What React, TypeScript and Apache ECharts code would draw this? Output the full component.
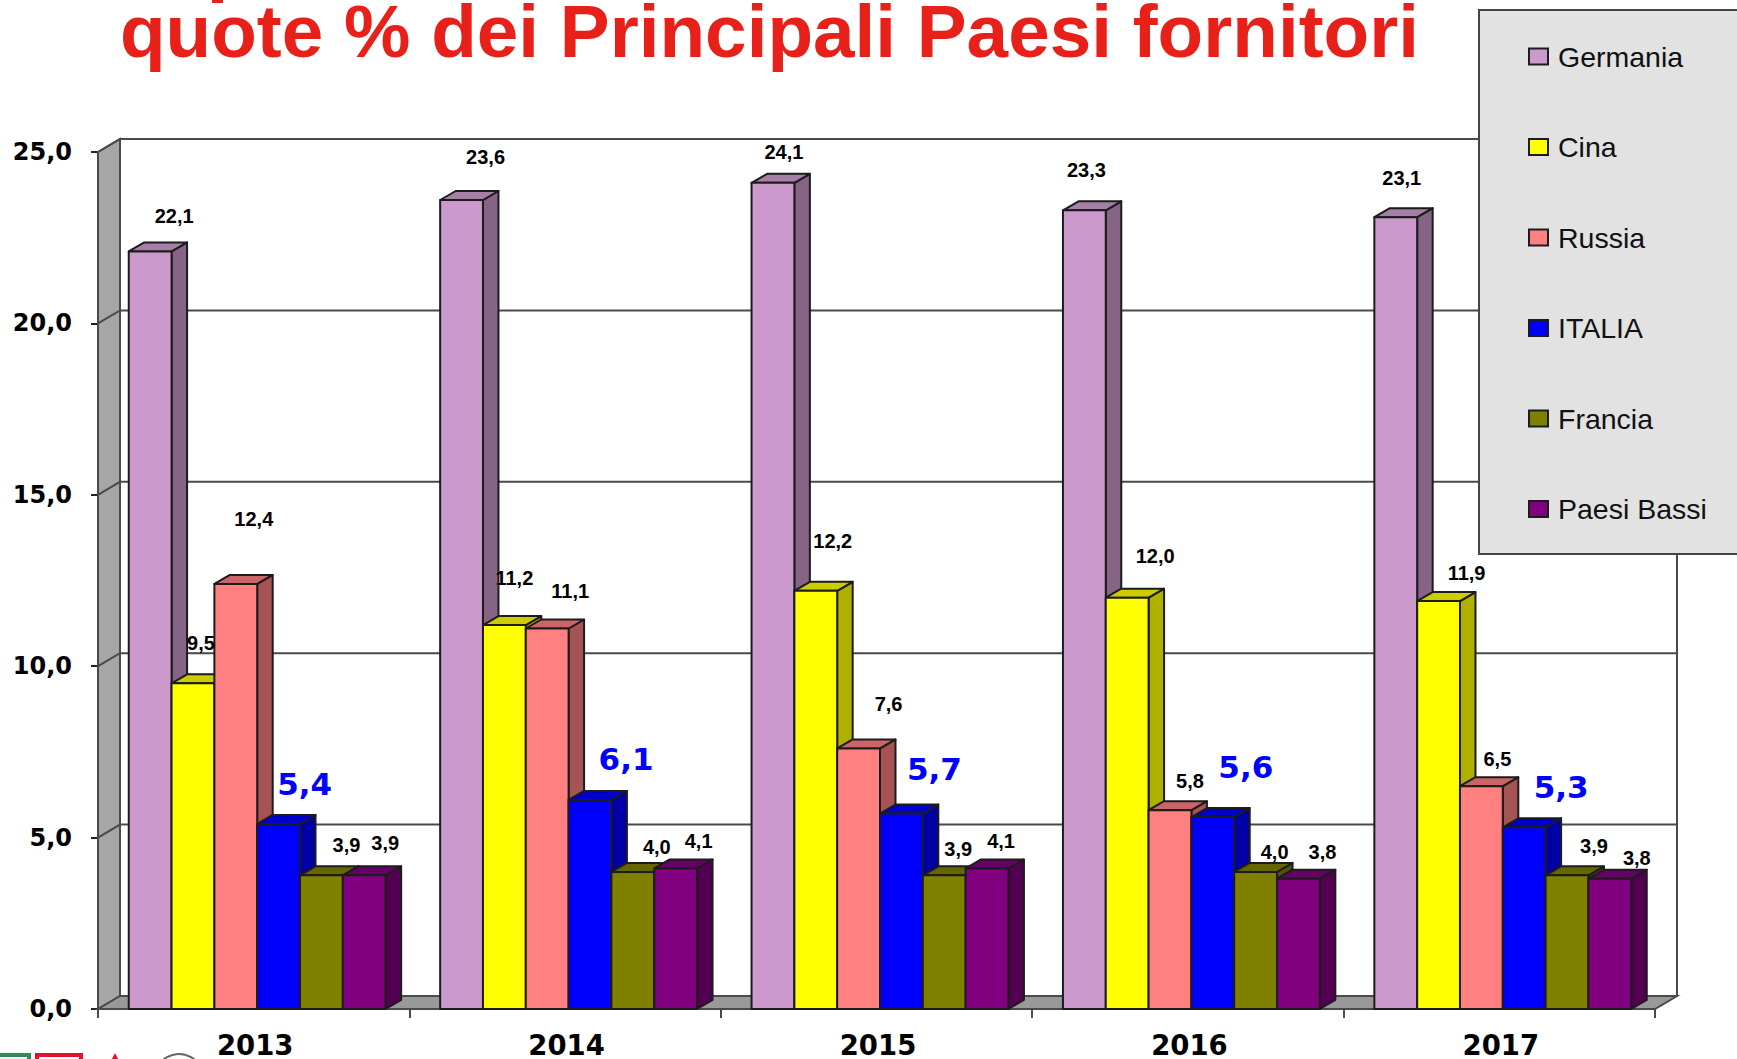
import React, { useEffect, useRef } from "react";
import * as echarts from "echarts";

const years = ["2013", "2014", "2015", "2016", "2017"];
const titleText = "quote % dei Principali Paesi fornitori";
const ticks = [0, 5, 10, 15, 20, 25];

const germania = [22.1, 23.6, 24.1, 23.3, 23.1];
const cina = [9.5, 11.2, 12.2, 12.0, 11.9];
const russia = [12.4, 11.1, 7.6, 5.8, 6.5];
const italia = [5.4, 6.1, 5.7, 5.6, 5.3];
const francia = [3.9, 4.0, 3.9, 4.0, 3.9];
const paesiBassi = [3.9, 4.1, 4.1, 3.8, 3.8];

// the reference's labels were placed by hand: [dx, dy] from the front-top centre of each bar
const nudgeGermania = [[24, -35], [24, -43], [11, -31], [2, -40], [6, -39]];
const nudgeCina = [[8, -40], [10, -47], [17, -50], [28, -42], [28, -28]];
const nudgeRussia = [[18, -65], [23, -37], [30, -44], [20, -29], [16, -27]];
const nudgeItalia = [[26, -40], [36, -41], [33, -45], [33, -50], [37, -40]];
const nudgeFrancia = [[25, -30], [24, -25], [14, -26], [19, -20], [27, -29]];
const nudgePaesiBassi = [[21, -32], [23, -27], [14, -27], [24, -27], [27, -21]];

const countries = [
  { name: "Germania", values: germania, nudge: nudgeGermania, front: "#CC99CC", top: "#A67FA6", side: "#866486" },
  { name: "Cina", values: cina, nudge: nudgeCina, front: "#FFFF00", top: "#CCCC00", side: "#B0B000" },
  { name: "Russia", values: russia, nudge: nudgeRussia, front: "#FF8080", top: "#CC6666", side: "#A65353" },
  { name: "ITALIA", values: italia, nudge: nudgeItalia, front: "#0000FF", top: "#0000CC", side: "#0000A6" },
  { name: "Francia", values: francia, nudge: nudgeFrancia, front: "#808000", top: "#666600", side: "#535300" },
  { name: "Paesi Bassi", values: paesiBassi, nudge: nudgePaesiBassi, front: "#800080", top: "#660066", side: "#530053" },
];

const EDGE = "#1c1c1c";
const LINE = "#4a4a4a";
const WALL_DX = 22;
const WALL_DY = 13;
const BAR_DX = 15.5;
const BAR_DY = 9;
const BAR_SHARE = 0.1375;
const GROUP_SHIFT = 3.5;

const fmt = (v: number) => v.toFixed(1).replace(".", ",");

function renderFrame(params: any, api: any) {
  const cs = params.coordSys;
  const v = api.value(1);
  const y = api.coord([0, v])[1];
  const left = cs.x;
  const right = cs.x + cs.width;
  const children: any[] = [];
  if (v === 0) {
    const top = cs.y;
    children.push({
      type: "polygon",
      shape: { points: [[left, top], [left + WALL_DX, top - WALL_DY], [left + WALL_DX, y - WALL_DY], [left, y]] },
      style: { fill: "#A6A6A6", stroke: LINE, lineWidth: 2 },
    });
    children.push({
      type: "polygon",
      shape: { points: [[left, y], [left + WALL_DX, y - WALL_DY], [right + WALL_DX, y - WALL_DY], [right, y]] },
      style: { fill: "#999999", stroke: LINE, lineWidth: 2 },
    });
    children.push({
      type: "line",
      shape: { x1: right + WALL_DX, y1: y - WALL_DY, x2: right + WALL_DX, y2: top - WALL_DY },
      style: { stroke: LINE, lineWidth: 2 },
    });
  } else {
    children.push({
      type: "polyline",
      shape: { points: [[left, y], [left + WALL_DX, y - WALL_DY], [right + WALL_DX, y - WALL_DY]] },
      style: { fill: "none", stroke: LINE, lineWidth: 2 },
    });
  }
  return { type: "group", children };
}

function makeBarRenderer(index: number) {
  const c = countries[index];
  return (_params: any, api: any) => {
    const cat = api.value(0);
    const val = api.value(1);
    const [cx, yTop] = api.coord([cat, val]);
    const y0 = api.coord([cat, 0])[1];
    const w = api.size([1, 0])[0] * BAR_SHARE;
    const x0 = cx + GROUP_SHIFT + (index - countries.length / 2) * w;
    const x1 = x0 + w;
    const stroke = { stroke: EDGE, lineWidth: 2, lineJoin: "round" };
    const isItalia = c.name === "ITALIA";
    const [nx, ny] = c.nudge[cat];
    return {
      type: "group",
      children: [
        {
          type: "polygon",
          shape: { points: [[x1, yTop], [x1 + BAR_DX, yTop - BAR_DY], [x1 + BAR_DX, y0 - BAR_DY], [x1, y0]] },
          style: { fill: c.side, ...stroke },
        },
        {
          type: "polygon",
          shape: { points: [[x0, yTop], [x0 + BAR_DX, yTop - BAR_DY], [x1 + BAR_DX, yTop - BAR_DY], [x1, yTop]] },
          style: { fill: c.top, ...stroke },
        },
        {
          type: "rect",
          shape: { x: x0, y: yTop, width: w, height: y0 - yTop },
          style: { fill: c.front, ...stroke },
        },
        {
          type: "text",
          z2: 100,
          x: x0 + w / 2 + nx,
          y: yTop + ny,
          style: {
            text: fmt(val),
            fill: isItalia ? "#0000FF" : "#000000",
            font: isItalia ? 'bold 31px "DejaVu Sans"' : 'bold 20px "Liberation Sans"',
            align: "center",
            verticalAlign: "middle",
          },
        },
      ],
    };
  };
}

export default function App() {
  const ref = useRef<HTMLDivElement>(null);
  useEffect(() => {
    const chart = echarts.init(ref.current!, undefined, { renderer: "svg" });
    chart.setOption({
      animation: false,
      backgroundColor: "#FFFFFF",
      title: {
        text: titleText,
        left: 120,
        top: 1,
        padding: 0,
        textStyle: { fontFamily: "Liberation Sans", fontWeight: "bold", fontSize: 74.7, lineHeight: 60, color: "#E8201A" },
      },
      grid: { left: 98, right: 82, top: 152, bottom: 50 },
      xAxis: {
        type: "category",
        data: years,
        boundaryGap: true,
        axisLine: { lineStyle: { color: LINE, width: 2 } },
        axisTick: { show: true, length: 9, lineStyle: { color: LINE, width: 2 } },
        axisLabel: {
          margin: 24,
          color: "#000",
          fontFamily: "DejaVu Sans",
          fontWeight: "bold",
          fontSize: 27.5,
          lineHeight: 24,
          padding: [0, 0, 0, 3],
        },
        splitLine: { show: false },
      },
      yAxis: {
        type: "value",
        min: 0,
        max: 25,
        interval: 5,
        axisLine: { show: true, lineStyle: { color: LINE, width: 2 } },
        axisTick: { show: true, length: 7, lineStyle: { color: "#222", width: 2 } },
        axisLabel: {
          margin: 26,
          color: "#000",
          fontFamily: "DejaVu Sans",
          fontWeight: "bold",
          fontSize: 24,
          padding: [5, 0, 0, 0],
          formatter: (v: number) => fmt(v),
        },
        splitLine: { show: false },
      },
      legend: {
        data: countries.map((c) => c.name),
        orient: "vertical",
        left: 1528,
        top: 42,
        padding: 0,
        itemGap: 61.5,
        itemWidth: 19,
        itemHeight: 16,
        icon: "rect",
        selectedMode: false,
        z: 6,
        itemStyle: { borderColor: EDGE, borderWidth: 2 },
        textStyle: {
          fontFamily: "Liberation Sans",
          fontSize: 28.5,
          color: "#111",
          lineHeight: 28,
          padding: [0, 0, 0, 5],
        },
      },
      graphic: [
        {
          type: "rect",
          z: 5,
          shape: { x: 1479, y: 10, width: 300, height: 544 },
          style: { fill: "#E2E2E2", stroke: "#444", lineWidth: 2 },
        },
        { type: "rect", shape: { x: 212, y: -2, width: 11, height: 5 }, style: { fill: "#E8201A" } },
        { type: "rect", shape: { x: -6, y: 1055, width: 35, height: 20 }, style: { fill: "none", stroke: "#2E8B57", lineWidth: 4 } },
        { type: "rect", shape: { x: 37, y: 1055, width: 44, height: 20 }, style: { fill: "none", stroke: "#E2142D", lineWidth: 4 } },
        { type: "polygon", shape: { points: [[115, 1053], [106, 1070], [124, 1070]] }, style: { fill: "#E2142D" } },
        { type: "circle", shape: { cx: 179, cy: 1078, r: 24 }, style: { fill: "none", stroke: "#666", lineWidth: 2 } },
      ],
      series: [
        {
          type: "custom",
          name: "frame",
          z: 1,
          clip: false,
          renderItem: renderFrame,
          encode: { x: 0, y: 1 },
          data: ticks.map((t) => [0, t]),
          silent: true,
        },
        ...countries.map((c, i) => ({
          type: "custom",
          name: c.name,
          z: 2,
          clip: false,
          renderItem: makeBarRenderer(i),
          encode: { x: 0, y: 1 },
          itemStyle: { color: c.front },
          data: c.values.map((v, k) => [k, v]),
        })),
      ],
    });
    return () => chart.dispose();
  }, []);
  return <div ref={ref} style={{ position: "absolute", left: 0, top: 0, width: 1737, height: 1059 }} />;
}
